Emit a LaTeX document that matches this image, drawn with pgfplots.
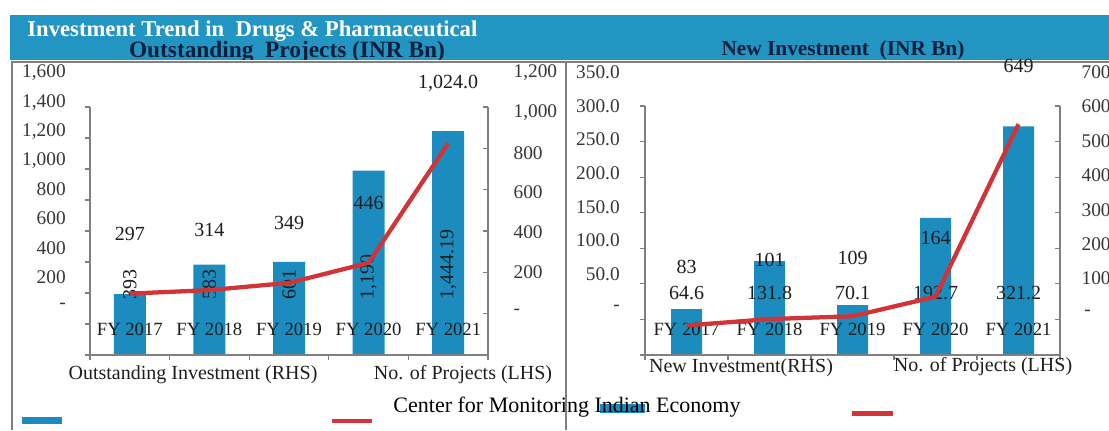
\documentclass[border=0pt]{standalone}
\usepackage{pgfplots}
\pgfplotsset{compat=1.18}
\usepackage{fontspec}
\setmainfont{Liberation Serif}
\definecolor{barblue}{RGB}{28,140,190}
\definecolor{banner}{RGB}{34,149,195}
\definecolor{linered}{RGB}{208,52,56}
\definecolor{axisgray}{RGB}{128,128,128}
\definecolor{txt}{RGB}{30,30,30}
\definecolor{ticktxt}{RGB}{55,55,55}
\definecolor{navy}{RGB}{12,30,60}
\newcommand\tlf{\fontsize{14.5}{16}\selectfont}
\newcommand\dlf{\fontsize{15}{17}\selectfont}
\newcommand\clf{\fontsize{14}{16}\selectfont}
\newcommand\lgf{\fontsize{15}{17}\selectfont}
\pgfplotsset{
  inner/.style={anchor=south west, scale only axis, xmin=-0.5, xmax=4.5,
    axis line style={draw=axisgray, line width=0.9pt},
    every tick/.style={axisgray, line width=0.8pt},
    major tick length=3.75pt, clip=false},
  outer/.style={anchor=south west, scale only axis, width=1pt, hide x axis,
    xmin=0, xmax=1, y axis line style={draw=none}, ytick style={draw=none},
    yticklabel style={inner sep=0pt, font=\tlf, text=ticktxt}},
}
\begin{document}
\begin{tikzpicture}
\useasboundingbox (0,0) rectangle (831.75pt,322.5pt);
\fill[white] (0,0) rectangle (831.75pt,322.5pt);
% banner
\fill[banner] (7.5pt,277.5pt) rectangle (831.75pt,311.25pt);
\node[anchor=west, text=white, font=\bfseries\fontsize{17}{19}\selectfont] at (17pt,299.5pt) {Investment Trend in\ \ Drugs \& Pharmaceutical};
\node[text=navy, font=\bfseries\fontsize{17.5}{19}\selectfont] at (215.25pt,283.5pt) {Outstanding\ \ Projects (INR Bn)};
\node[text=navy, font=\bfseries\fontsize{16}{18}\selectfont] at (632.25pt,285pt) {New Investment\ \ (INR Bn)};
\fill[white!92!gray] (7.5pt,276pt) rectangle (831.75pt,277.5pt);
\draw[axisgray, line width=1pt] (9pt,0) -- (9pt,276pt) -- (831.75pt,276pt);

% ---------- LEFT PANEL ----------
\begin{axis}[outer, at={(49.5pt,93pt)}, height=174.75pt, ymin=0, ymax=1600,
  axis y line*=left, ytick={0,200,...,1600},
  yticklabels={-\hspace{8pt},200,400,600,800,{1,000},{1,200},{1,400},{1,600}},
  yticklabel style={anchor=east}]
\end{axis}
\begin{axis}[outer, at={(384pt,88.5pt)}, height=179.25pt, ymin=0, ymax=1200,
  axis y line*=right, ytick={0,200,...,1200},
  yticklabels={-,200,400,600,800,{1,000},{1,200}},
  yticklabel style={anchor=west}]
\end{axis}
\begin{axis}[inner, axis on top, at={(67.5pt,56.25pt)}, width=298.5pt, height=186pt,
  ymin=0, ymax=1600, axis x line*=bottom, axis y line*=left,
  tick align=outside,
  ytick={0,200,...,1600}, yticklabels={},
  xtick={-0.5,0.5,1.5,2.5,3.5,4.5}, xticklabels={},
  extra x ticks={0,1,2,3,4},
  extra x tick labels={FY 2017,FY 2018,FY 2019,FY 2020,FY 2021},
  extra x tick style={major tick length=0pt,
    xticklabel style={anchor=center, yshift=19.5pt, font=\clf, text=txt}}]
\addplot[ybar, bar width=24pt, fill=barblue, draw=none] coordinates
  {(0,393) (1,583) (2,601) (3,1190) (4,1444.19)};
\addplot[draw=none, mark=none, nodes near coords, point meta=explicit symbolic,
  every node near coord/.append style={rotate=90, anchor=west, font=\dlf, text=txt, inner sep=0pt}]
  coordinates {(0,355) [393] (1,355) [583] (2,355) [601] (3,355) [{1,190}] (4,355) [{1,444.19}]};
\end{axis}
\begin{axis}[inner, at={(67.5pt,56.25pt)}, width=298.5pt, height=186pt,
  ymin=0, ymax=1200, hide x axis, axis y line*=right, tick align=inside,
  ytick={0,200,...,1200}, yticklabels={}]
\addplot[linered, line width=3.2pt, line join=round, mark=none,
  nodes near coords, point meta=explicit symbolic,
  every node near coord/.append style={anchor=center, yshift=45pt, font=\dlf, text=txt}]
  coordinates {(0,297) [297] (1,314) [314] (2,349) [349] (3,446) [446] (4,1024) [{1,024.0}]};
\end{axis}

% ---------- RIGHT PANEL ----------
\begin{axis}[outer, at={(465pt,91.5pt)}, height=177pt, ymin=0, ymax=350,
  axis y line*=left, ytick={0,50,...,350},
  yticklabels={-\hspace{5pt},50.0,100.0,150.0,200.0,250.0,300.0,350.0},
  yticklabel style={anchor=east}]
\end{axis}
\begin{axis}[outer, at={(810pt,87.75pt)}, height=180.75pt, ymin=0, ymax=700,
  axis y line*=right, ytick={0,100,...,700},
  yticklabels={\hspace{2pt}-,100,200,300,400,500,600,700},
  yticklabel style={anchor=west}]
\end{axis}
\begin{axis}[inner, axis on top, at={(483.75pt,56.25pt)}, width=311.25pt, height=186.75pt,
  ymin=0, ymax=350, axis x line*=bottom, axis y line*=left,
  tick align=outside,
  ytick={0,50,...,350}, yticklabels={},
  xtick={-0.5,0.5,1.5,2.5,3.5,4.5}, xticklabels={},
  extra x ticks={0,1,2,3,4},
  extra x tick labels={FY 2017,FY 2018,FY 2019,FY 2020,FY 2021},
  extra x tick style={major tick length=0pt,
    xticklabel style={anchor=center, yshift=19.5pt, font=\clf, text=txt}}]
\addplot[ybar, bar width=23.25pt, fill=barblue, draw=none] coordinates
  {(0,64.6) (1,131.8) (2,70.1) (3,192.7) (4,321.2)};
\addplot[draw=none, mark=none, nodes near coords, point meta=explicit symbolic,
  every node near coord/.append style={anchor=center, font=\dlf, text=txt}]
  coordinates {(0,87) [64.6] (1,87) [131.8] (2,87) [70.1] (3,87) [192.7] (4,87) [321.2]};
\end{axis}
\begin{axis}[inner, at={(483.75pt,56.25pt)}, width=311.25pt, height=186.75pt,
  ymin=0, ymax=700, hide x axis, axis y line*=right, tick align=inside,
  ytick={0,100,...,700}, yticklabels={}]
\addplot[linered, line width=3.2pt, line join=round, mark=none,
  nodes near coords, point meta=explicit symbolic,
  every node near coord/.append style={anchor=center, yshift=44pt, font=\dlf, text=txt}]
  coordinates {(0,83) [83] (1,101) [101] (2,109) [109] (3,164) [164] (4,649) [649]};
\end{axis}

% ---------- legends ----------
\node[font=\lgf, text=txt] at (144.75pt,41.25pt) {Outstanding Investment (RHS)};
\node[font=\lgf, text=txt] at (347.25pt,41.25pt) {No. of Projects (LHS)};
\node[font=\lgf, text=txt] at (555.75pt,46.5pt) {New Investment(RHS)};
\node[font=\lgf, text=txt] at (737.25pt,47.25pt) {No. of Projects (LHS)};
\fill[barblue] (16.5pt,4.5pt) rectangle (46.5pt,9.75pt);
\fill[linered] (249pt,5.25pt) rectangle (279pt,8.25pt);
\fill[barblue] (450pt,12.75pt) rectangle (483.75pt,19.5pt);
\fill[linered] (639pt,10.5pt) rectangle (669.75pt,14.25pt);
\node[font=\fontsize{16.5}{19}\selectfont, text=black] at (425.25pt,17.25pt) {Center for Monitoring Indian Economy};
\draw[axisgray, line width=1.5pt] (424.5pt,0) -- (424.5pt,276pt);
\end{tikzpicture}
\end{document}
